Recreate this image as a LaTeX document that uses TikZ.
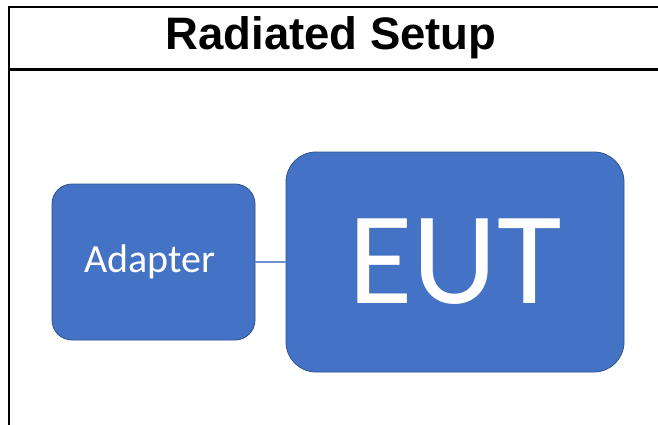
\documentclass[tikz,border=0pt]{standalone}
\usepackage{fontspec}
\usepackage{xcolor}
\usepackage{tikz}
\usetikzlibrary{positioning}
\newfontfamily\titlefont{Liberation Sans}
\newfontfamily\boxfont{Carlito}
\definecolor{boxblue}{HTML}{4472C4}
\definecolor{boxedge}{HTML}{2F528F}
\definecolor{linkblue}{HTML}{6F8FD0}
\tikzset{
  bloc/.style={fill=boxblue, draw=boxedge, line width=0.8pt, text=white, inner sep=0pt},
}

\begin{document}
\begin{tikzpicture}[x=1pt, y=-1pt]
    % Zone de la page
    \useasboundingbox (0,0) rectangle (658,425);
    \fill[white] (0,0) rectangle (658,425);

    % Cadre du tableau
    \draw[line width=2pt] (9,7) -- (658,7);
    \draw[line width=2.4pt] (9,69.5) -- (658,69.5);
    \draw[line width=2pt] (9,6) -- (9,425);

    % Titre
    \node (titre) at (331,38) {\titlefont\bfseries\fontsize{45.5}{50}\selectfont Radiated Setup};

    % Blocs
    \node[bloc, rounded corners=20pt, minimum width=203pt, minimum height=156pt,
          font=\boxfont\fontsize{40}{44}\selectfont] (adapter) at (153.5,262) {};
    \node[white, font=\boxfont\fontsize{40}{44}\selectfont, anchor=base]
          (adaptertxt) at (150,272) {Adapter};
    \node[bloc, rounded corners=30pt, minimum width=338pt, minimum height=220pt,
          font=\boxfont\fontsize{132}{140}\selectfont] (eut) at (455,262) {EUT};

    % Liaison
    \draw[linkblue, line width=1.8pt] (adapter.east) -- (eut.west);
\end{tikzpicture}
\end{document}
